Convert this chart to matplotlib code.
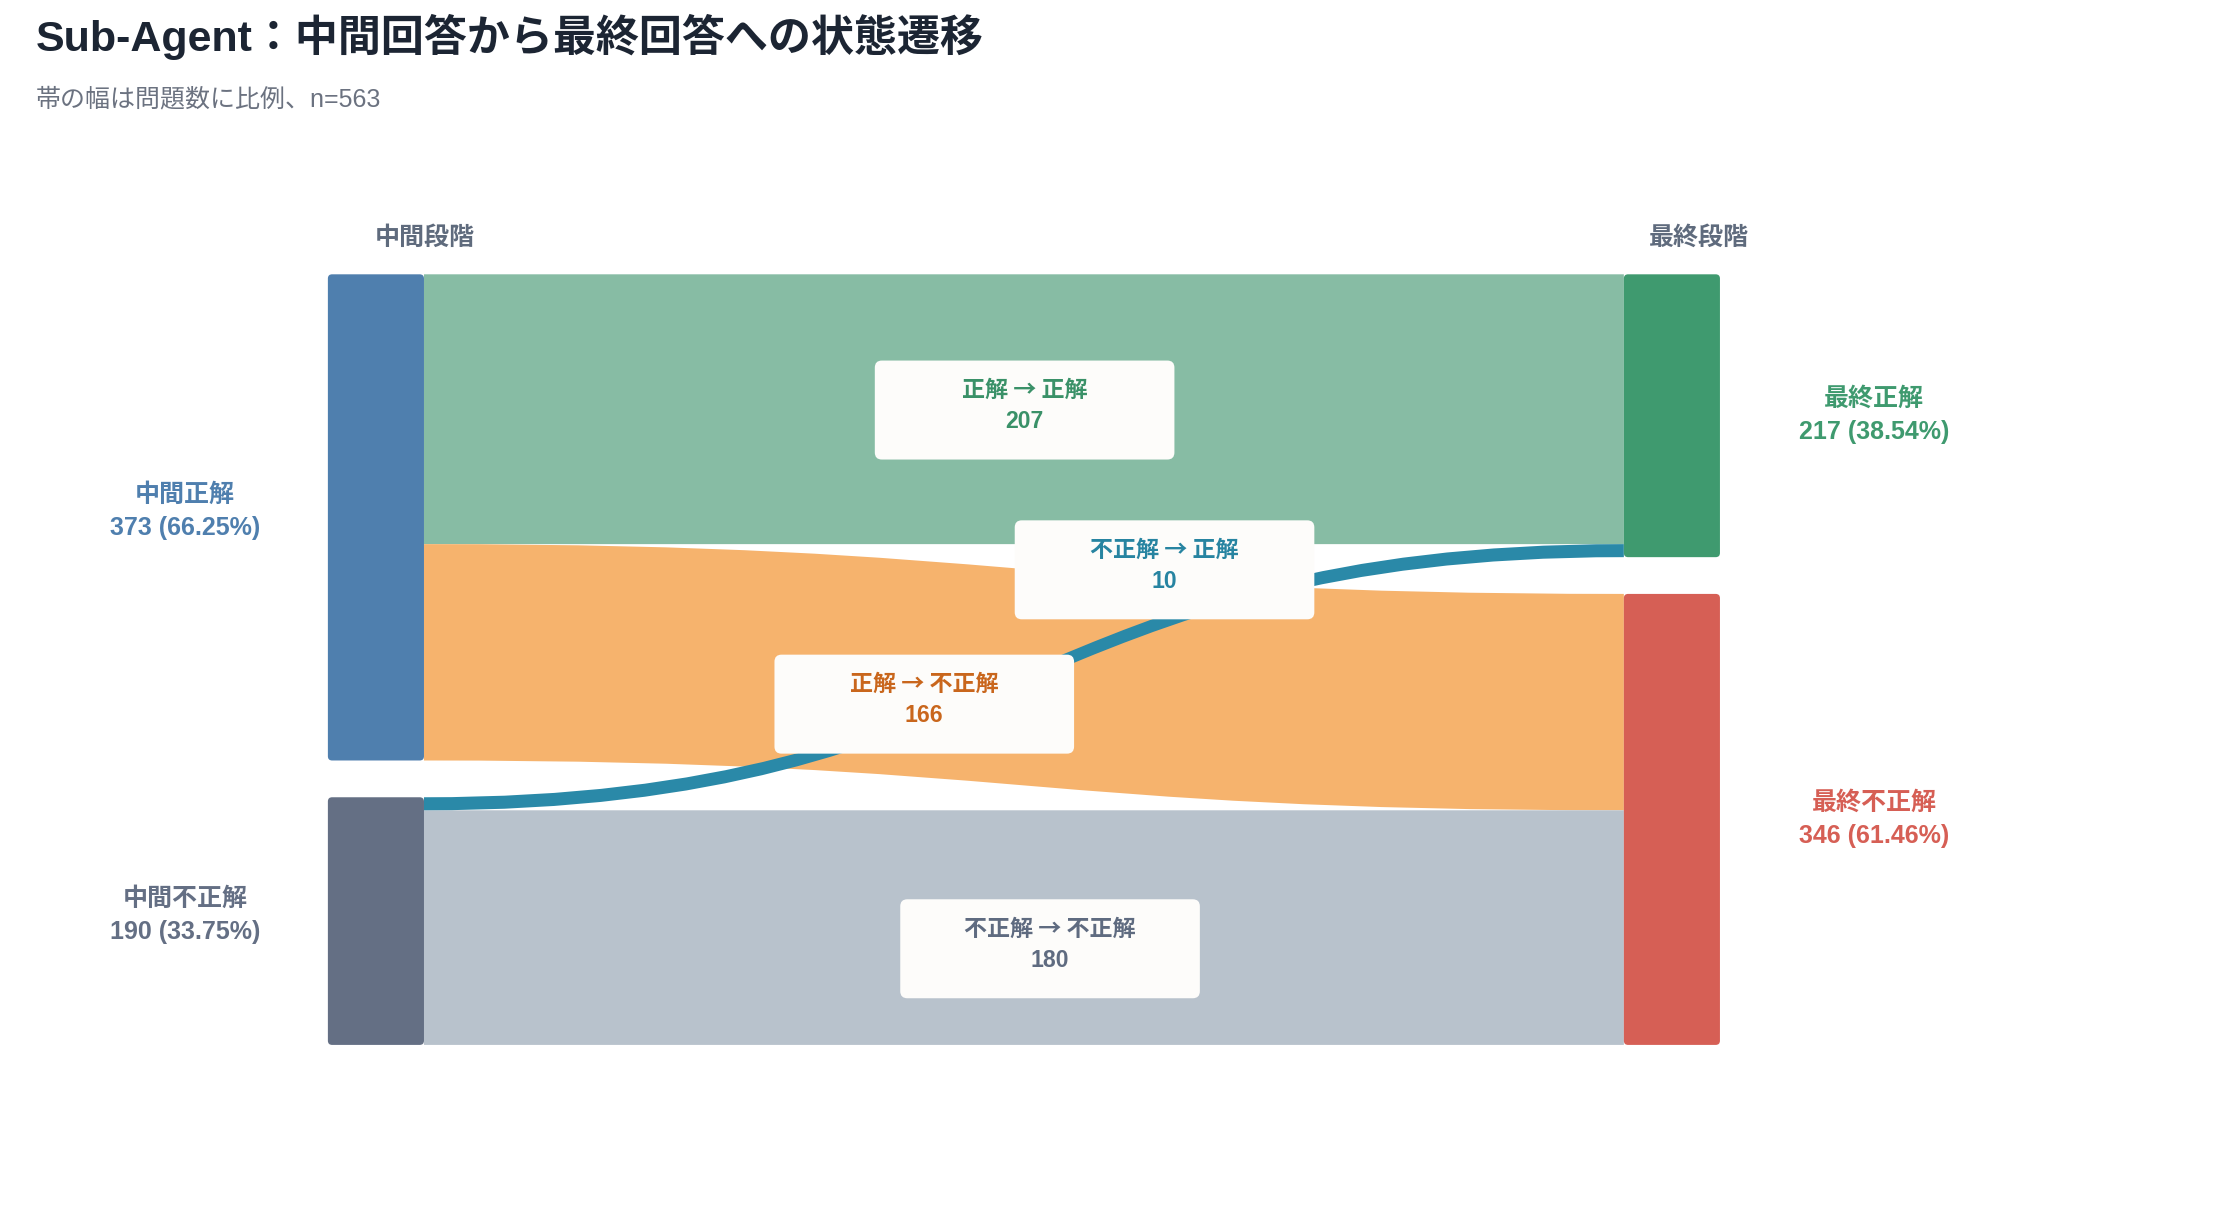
import matplotlib.pyplot as plt
import numpy as np
from matplotlib.path import Path
from matplotlib.patches import PathPatch, FancyBboxPatch

plt.rcParams['font.family'] = ['Liberation Sans', 'Noto Sans CJK JP', 'DejaVu Sans']

# data
left_names = ["中間正解", "中間不正解"]
right_names = ["最終正解", "最終不正解"]
left_counts = [373, 190]
right_counts = [217, 346]
flow_src = [0, 0, 1, 1]
flow_dst = [0, 1, 0, 1]
flow_vals = [207, 166, 10, 180]
flow_names = ["正解 → 正解", "正解 → 不正解", "不正解 → 正解", "不正解 → 不正解"]
n_total = 563

# styles
left_colors = ["#4f7fae", "#646f84"]
right_colors = ["#3f9a6f", "#d65f55"]
flow_colors = ["#87bca4", "#f6b36d", "#2a89a8", "#b8c2cc"]
flow_text_colors = ["#3a9168", "#c9661c", "#2784a1", "#5f6b80"]
draw_order = [0, 1, 3, 2]
# label box centres (canvas units) for each flow
label_pos = [(725, 290), (654, 498), (824, 403), (743, 671)]

W, H = 1568, 860
top, bottom, gap = 194, 739, 26
lx0, lx1 = 232, 300
rx0, rx1 = 1149, 1217
k = (bottom - top - gap) / n_total


def node_spans(counts):
    spans = []
    y = top
    for c in counts:
        spans.append((y, y + c * k))
        y += c * k + gap
    return spans


def band(x0, x1, y0a, y0b, y1a, y1b):
    xm = (x0 + x1) / 2
    verts = [(x0, y0a), (xm, y0a), (xm, y1a), (x1, y1a),
             (x1, y1b), (xm, y1b), (xm, y0b), (x0, y0b), (x0, y0a)]
    codes = [Path.MOVETO, Path.CURVE4, Path.CURVE4, Path.CURVE4,
             Path.LINETO, Path.CURVE4, Path.CURVE4, Path.CURVE4, Path.CLOSEPOLY]
    return Path(verts, codes)


def main():
    fig = plt.figure(figsize=(11.08, 6.08), dpi=200)
    ax = fig.add_axes([0, 0, 1, 1])
    ax.set_xlim(0, W)
    ax.set_ylim(H, 0)
    ax.axis("off")

    lspans = node_spans(left_counts)
    rspans = node_spans(right_counts)

    # stacking offsets of flows within each node
    lcur = [s[0] for s in lspans]
    rcur = [s[0] for s in rspans]
    fl_left, fl_right = {}, {}
    for i in sorted(range(len(flow_vals)), key=lambda i: (flow_src[i], flow_dst[i])):
        h = flow_vals[i] * k
        fl_left[i] = (lcur[flow_src[i]], lcur[flow_src[i]] + h)
        lcur[flow_src[i]] += h
    for i in sorted(range(len(flow_vals)), key=lambda i: (flow_dst[i], flow_src[i])):
        h = flow_vals[i] * k
        fl_right[i] = (rcur[flow_dst[i]], rcur[flow_dst[i]] + h)
        rcur[flow_dst[i]] += h

    for i in draw_order:
        p = band(lx1, rx0, fl_left[i][0], fl_left[i][1], fl_right[i][0], fl_right[i][1])
        ax.add_patch(PathPatch(p, facecolor=flow_colors[i], edgecolor="none", lw=0, zorder=2))

    # nodes
    for spans, x0, x1, cols in [(lspans, lx0, lx1, left_colors), (rspans, rx0, rx1, right_colors)]:
        for (y0, y1), c in zip(spans, cols):
            ax.add_patch(FancyBboxPatch((x0 + 3, y0 + 3), x1 - x0 - 6, y1 - y0 - 6,
                                        boxstyle="round,pad=3", facecolor=c,
                                        edgecolor="none", zorder=3))

    # node labels
    for (y0, y1), name, cnt, c in zip(lspans, left_names, left_counts, left_colors):
        ax.text(131, (y0 + y1) / 2 - 4, f"{name}\n{cnt} ({cnt / n_total * 100:.2f}%)",
                ha="center", va="center", color=c, fontsize=9, fontweight="bold",
                linespacing=1.5, zorder=5)
    for (y0, y1), name, cnt, c in zip(rspans, right_names, right_counts, right_colors):
        ax.text(1326, (y0 + y1) / 2, f"{name}\n{cnt} ({cnt / n_total * 100:.2f}%)",
                ha="center", va="center", color=c, fontsize=9, fontweight="bold",
                linespacing=1.5, zorder=5)

    # flow labels
    bw, bh = 212, 70
    for i, (cx, cy) in enumerate(label_pos):
        ax.add_patch(FancyBboxPatch((cx - bw / 2 + 5, cy - bh / 2 + 5), bw - 10, bh - 10,
                                    boxstyle="round,pad=5", facecolor="#fdfcfa",
                                    edgecolor="none", zorder=6))
        ax.text(cx, cy - 14, flow_names[i], ha="center", va="center",
                color=flow_text_colors[i], fontsize=8.3, fontweight="bold", zorder=7,
                family=["Noto Sans CJK JP", "DejaVu Sans"])
        ax.text(cx, cy + 8, str(flow_vals[i]), ha="center", va="center",
                color=flow_text_colors[i], fontsize=8.3, fontweight="bold", zorder=7)

    # stage labels
    ax.text(265, 168, "中間段階", ha="left", va="center", color="#5f6b7d",
            fontsize=9, fontweight="bold")
    ax.text(1167, 168, "最終段階", ha="left", va="center", color="#5f6b7d",
            fontsize=9, fontweight="bold")

    # title
    ax.text(25, 26, "Sub-Agent：中間回答から最終回答への状態遷移", ha="left", va="center",
            color="#1c2533", fontsize=15.5, fontweight="bold")
    ax.text(25, 70, "帯の幅は問題数に比例、n=563", ha="left", va="center",
            color="#6b7280", fontsize=9)

    fig.savefig("out.png", dpi=200, facecolor="white")


if "__main__" == __name__:
    main()
